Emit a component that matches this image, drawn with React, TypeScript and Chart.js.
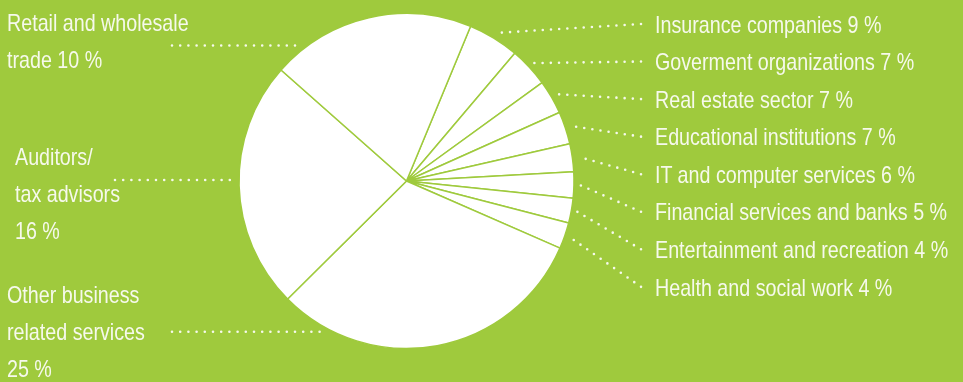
import React, { useEffect, useRef } from "react";
import { Chart, registerables } from "chart.js";

Chart.register(...registerables);

// ---- data ----
const categories = [
  "Insurance companies",
  "Goverment organizations",
  "Real estate sector",
  "Educational institutions",
  "IT and computer services",
  "Financial services and banks",
  "Entertainment and recreation",
  "Health and social work",
  "Other business related services",
  "Auditors/ tax advisors",
  "Retail and wholesale trade",
];
// percentages printed in the labels
const labelPercents = [9, 7, 7, 7, 6, 5, 4, 4, 25, 16, 10];
// slice sizes as drawn in the picture (share of full circle, %)
const sliceShares = [4.94, 3.83, 3.28, 3.14, 2.67, 2.53, 2.39, 2.53, 31.0, 23.97, 19.72];

// left-hand multi-line label texts
const leftLabelLines = [
  ["Other business", "related services", "25 %"],
  ["Auditors/", "tax advisors", "16 %"],
  ["Retail and wholesale", "trade 10 %"],
];
const leftLabelIndex = [8, 9, 10];

// ---- layout / style ----
const W = 963;
const H = 382;
const BG = "#9fca3d";
const TEXT = "#f6f9ec";
const FONT = '"Liberation Sans", Arial, sans-serif';
const SQUEEZE = 0.82;
const RADIUS = 167.5;
const ROTATION = 22.5;
const LEADER_GAP = 6;
const RIGHT_X = 654.5;
const RIGHT_TOP0 = 5.7;
const RIGHT_STEP = 37.55;
const RIGHT_LEADER_END = 641;
const BASELINE_OFF = 26.8;
const leftLayout = [
  { left: 7, top: 275.9, lineH: 37.3, leaderY: 331.7, leaderX: 172 },
  { left: 15, top: 139.2, lineH: 36.7, leaderY: 180, leaderX: 115 },
  { left: 6.5, top: 3.9, lineH: 37.6, leaderY: 45.5, leaderX: 172 },
];

function dotted(ctx: CanvasRenderingContext2D, x1: number, y1: number, x2: number, y2: number) {
  ctx.beginPath();
  ctx.moveTo(x1, y1);
  ctx.lineTo(x2, y2);
  ctx.stroke();
}

const leaderPlugin = {
  id: "leaders",
  afterDraw(chart: any) {
    const meta = chart.getDatasetMeta(0);
    const arcs = meta.data;
    if (!arcs || !arcs.length) return;
    const ctx: CanvasRenderingContext2D = chart.ctx;
    ctx.save();
    ctx.strokeStyle = TEXT;
    ctx.lineWidth = 2.6;
    ctx.lineCap = "round";
    ctx.setLineDash([0, 8.2]);
    // right side leaders
    for (let i = 0; i < 8; i++) {
      const a = arcs[i];
      const mid = (a.startAngle + a.endAngle) / 2;
      const r = a.outerRadius + LEADER_GAP;
      const sx = a.x + Math.cos(mid) * r;
      const sy = a.y + Math.sin(mid) * r;
      const ey = RIGHT_TOP0 + RIGHT_STEP * i + BASELINE_OFF - 8.5;
      dotted(ctx, RIGHT_LEADER_END, ey, sx, sy);
    }
    // left side leaders
    leftLayout.forEach((l, k) => {
      const a = arcs[leftLabelIndex[k]];
      const r = a.outerRadius + LEADER_GAP;
      const dy = l.leaderY - a.y;
      const ex = a.x - Math.sqrt(Math.max(r * r - dy * dy, 0));
      dotted(ctx, l.leaderX, l.leaderY, ex, l.leaderY);
    });
    ctx.restore();
  },
};

export default function App() {
  const ref = useRef<HTMLCanvasElement | null>(null);
  useEffect(() => {
    if (!ref.current) return;
    const chart = new Chart(ref.current, {
      type: "pie",
      data: {
        labels: categories,
        datasets: [
          {
            data: sliceShares,
            backgroundColor: "#ffffff",
            borderColor: BG,
            borderWidth: 1.5,
            radius: RADIUS,
          } as any,
        ],
      },
      options: {
        responsive: false,
        animation: false,
        rotation: ROTATION,
        layout: { padding: { left: 230, right: 380, top: 5, bottom: 25 } },
        plugins: {
          legend: { display: false },
          tooltip: { enabled: false },
          title: { display: false },
        },
        events: [],
      } as any,
      plugins: [leaderPlugin],
    });
    return () => chart.destroy();
  }, []);

  const textBase: React.CSSProperties = {
    position: "absolute",
    fontFamily: FONT,
    fontSize: 24,
    color: TEXT,
    whiteSpace: "pre",
    margin: 0,
    transform: `scaleX(${SQUEEZE})`,
    transformOrigin: "0 0",
  };

  return (
    <div style={{ position: "absolute", left: 0, top: 0, width: W, height: H, background: BG, overflow: "hidden" }}>
      <canvas ref={ref} width={W} height={H} style={{ position: "absolute", left: 0, top: 0, width: W, height: H }} />
      {categories.slice(0, 8).map((c, i) => (
        <div key={c} style={{ ...textBase, left: RIGHT_X, top: RIGHT_TOP0 + RIGHT_STEP * i, lineHeight: "37px" }}>
          {`${c} ${labelPercents[i]} %`}
        </div>
      ))}
      {leftLabelLines.map((lines, k) => (
        <div key={k} style={{ ...textBase, left: leftLayout[k].left, top: leftLayout[k].top }}>
          {lines.map((t, j) => (
            <div key={j} style={{ lineHeight: `${leftLayout[k].lineH}px`, height: leftLayout[k].lineH }}>{t}</div>
          ))}
        </div>
      ))}
    </div>
  );
}
